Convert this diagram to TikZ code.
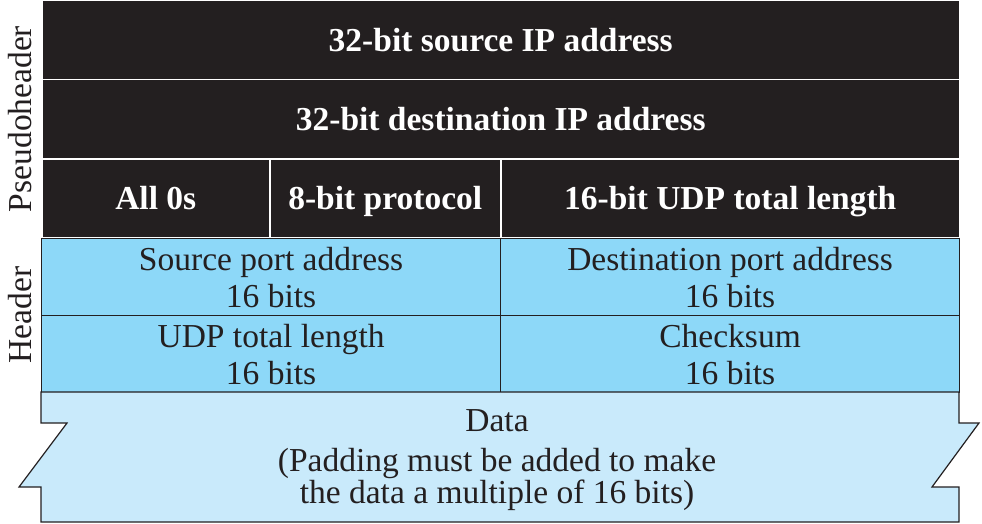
\documentclass[tikz,border=0pt]{standalone}
\usepackage{fontspec}
\setmainfont{Liberation Serif}
\usepackage{tikz}
\usetikzlibrary{positioning}
\definecolor{pblack}{HTML}{231F20}
\definecolor{hblue}{HTML}{8DD8F8}
\definecolor{dblue}{HTML}{C9EAFB}
\tikzstyle{every node}=[font=\fontsize{33.5}{37}\selectfont]
\tikzstyle{pseudo}=[draw=white,line width=1.5pt,fill=pblack,text=white,rectangle,inner sep=0pt,minimum height=79pt,text height=26.5pt,text depth=3.5pt,anchor=north west,font=\fontsize{33.5}{37}\selectfont\bfseries]
\tikzstyle{field}=[draw=pblack,line width=1.2pt,fill=hblue,text=pblack,rectangle,inner sep=0pt,align=center,minimum height=77pt,anchor=north west]
\tikzstyle{side}=[rotate=90,text=pblack]

\begin{document}
\begin{tikzpicture}[x=1pt,y=-1pt]
    \useasboundingbox (0,0) rectangle (982,524);
    % pseudoheader
    \node[pseudo, minimum width=918pt] (src) at (41,0) {32-bit source IP address};
    \node[pseudo, minimum width=918pt] (dst) at (41,79) {32-bit destination IP address};
    \node[pseudo, minimum width=228pt] (zeros) at (41,158) {All 0s};
    \node[pseudo, minimum width=231pt] (proto) at (269,158) {8-bit protocol};
    \node[pseudo, minimum width=459pt] (udplen) at (500,158) {16-bit UDP total length};
    % header
    \node[field, minimum width=459pt] (sport) at (41,238) {Source port address\\16 bits};
    \node[field, minimum width=459pt] (dport) at (500,238) {Destination port address\\16 bits};
    \node[field, minimum width=459pt] (len) at (41,315) {UDP total length\\16 bits};
    \node[field, minimum width=459pt] (csum) at (500,315) {Checksum\\16 bits};
    % data
    \draw[draw=pblack, line width=1.2pt, fill=dblue] (41,392) -- (959,392) -- (959,423) -- (979,423)
        -- (932,487) -- (959,487) -- (959,522) -- (41,522) -- (41,487) -- (19,487)
        -- (67,423) -- (41,423) -- cycle;
    \node[align=center, text=pblack, font=\fontsize{33.5}{30}\selectfont] (data) at (497,460) {Data\\[10pt](Padding must be added to make\\the data a multiple of 16 bits)};
    % side labels
    \node[side] (plabel) at (20,119) {Pseudoheader};
    \node[side] (hlabel) at (20,315) {Header};
\end{tikzpicture}
\end{document}
